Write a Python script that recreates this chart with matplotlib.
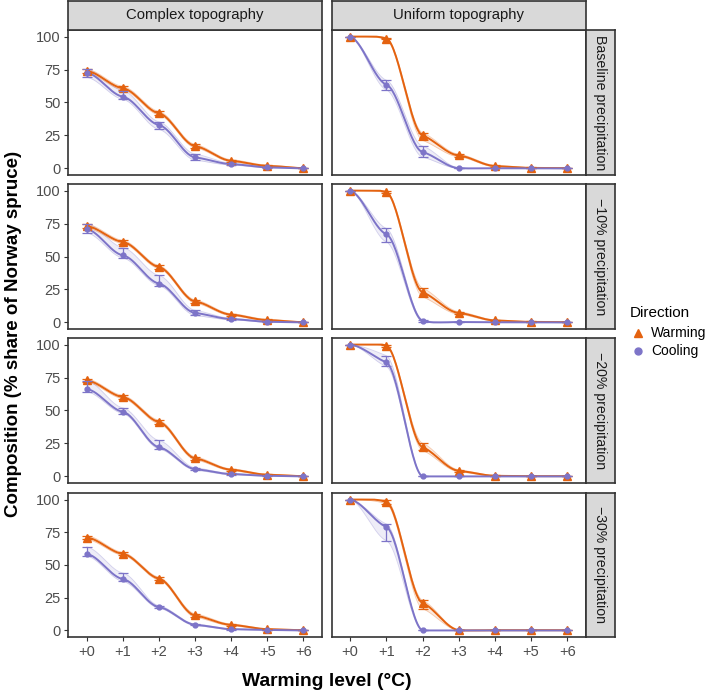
import numpy as np
import matplotlib.pyplot as plt
from matplotlib.lines import Line2D

plt.rcParams['font.family'] = ['Liberation Sans', 'DejaVu Sans']

# data, one list per precipitation row
levels = [0, 1, 2, 3, 4, 5, 6]
tick_labels = ['+0', '+1', '+2', '+3', '+4', '+5', '+6']
topo_labels = ['Complex topography', 'Uniform topography']
precip_labels = ['Baseline precipitation', '\u221210% precipitation',
                 '\u221220% precipitation', '\u221230% precipitation']

complex_warm = [[73.9, 60.8, 41.8, 17.0, 5.8, 2.0, 0.2],
                [73.0, 61.0, 42.0, 16.0, 5.9, 1.8, 0.2],
                [72.8, 60.2, 41.3, 13.8, 5.1, 1.3, 0.2],
                [71.0, 58.5, 39.6, 11.5, 4.3, 1.0, 0.2]]
complex_warm_lo = [[72.5, 59.5, 40.5, 15.8, 5.0, 1.4, 0.0],
                   [71.5, 59.8, 40.8, 14.8, 5.1, 1.2, 0.0],
                   [71.5, 59.0, 40.0, 12.6, 4.4, 0.8, 0.0],
                   [69.5, 57.4, 38.5, 10.2, 3.6, 0.6, 0.0]]
complex_warm_hi = [[75.3, 62.2, 43.2, 18.3, 6.7, 2.6, 0.5],
                   [74.5, 62.2, 43.2, 17.2, 6.7, 2.4, 0.5],
                   [74.0, 61.4, 42.6, 15.0, 5.8, 1.8, 0.5],
                   [72.5, 59.6, 40.7, 12.8, 5.0, 1.4, 0.5]]

complex_cool = [[72.6, 54.4, 32.9, 8.4, 3.3, 0.8, 0.0],
                [70.8, 50.9, 29.5, 7.2, 2.6, 0.5, 0.0],
                [66.3, 49.0, 22.2, 5.6, 1.8, 0.5, 0.0],
                [58.5, 39.3, 17.9, 4.4, 1.0, 0.4, 0.0]]
complex_cool_lo = [[69.1, 52.4, 29.6, 6.3, 2.6, 0.4, 0.0],
                   [68.0, 48.9, 27.9, 5.3, 2.0, 0.2, 0.0],
                   [64.3, 47.7, 21.0, 4.8, 1.3, 0.2, 0.0],
                   [56.9, 37.5, 17.0, 3.8, 0.7, 0.2, 0.0]]
complex_cool_hi = [[75.2, 59.0, 35.4, 10.9, 4.0, 1.3, 0.2],
                   [75.0, 56.8, 35.6, 9.2, 3.2, 0.9, 0.2],
                   [72.7, 52.0, 27.3, 6.6, 2.3, 0.8, 0.2],
                   [63.8, 43.9, 19.0, 5.0, 1.4, 0.6, 0.2]]

uniform_warm = [[100.0, 98.5, 25.0, 9.8, 1.8, 0.4, 0.2],
                [100.0, 98.8, 22.9, 7.2, 1.5, 0.4, 0.2],
                [100.0, 99.2, 22.2, 4.3, 0.5, 0.2, 0.2],
                [100.0, 98.2, 21.0, 0.3, 0.2, 0.2, 0.2]]
uniform_warm_lo = [[100.0, 97.8, 21.3, 8.8, 1.2, 0.1, 0.0],
                   [100.0, 98.0, 19.4, 6.2, 1.0, 0.1, 0.0],
                   [100.0, 98.5, 19.7, 3.5, 0.2, 0.0, 0.0],
                   [100.0, 96.7, 16.6, 0.0, 0.0, 0.0, 0.0]]
uniform_warm_hi = [[100.0, 99.2, 27.0, 10.8, 2.4, 0.7, 0.4],
                   [100.0, 99.5, 26.0, 8.2, 2.0, 0.7, 0.4],
                   [100.0, 99.8, 25.2, 5.1, 0.8, 0.4, 0.4],
                   [100.0, 100.0, 23.0, 0.6, 0.4, 0.4, 0.4]]

uniform_cool = [[100.0, 63.6, 12.4, 0.2, 0.1, 0.0, 0.0],
                [100.0, 66.9, 1.3, 0.3, 0.1, 0.0, 0.0],
                [100.0, 86.5, 0.0, 0.0, 0.0, 0.0, 0.0],
                [100.0, 79.1, 0.0, 0.0, 0.0, 0.0, 0.0]]
uniform_cool_lo = [[100.0, 59.6, 8.6, 0.0, 0.0, 0.0, 0.0],
                   [100.0, 61.1, 0.6, 0.0, 0.0, 0.0, 0.0],
                   [100.0, 83.4, 0.0, 0.0, 0.0, 0.0, 0.0],
                   [100.0, 68.6, 0.0, 0.0, 0.0, 0.0, 0.0]]
uniform_cool_hi = [[100.0, 67.0, 16.9, 0.5, 0.2, 0.1, 0.1],
                   [100.0, 71.3, 2.0, 0.5, 0.2, 0.1, 0.1],
                   [100.0, 91.6, 0.3, 0.1, 0.1, 0.1, 0.1],
                   [100.0, 81.4, 0.3, 0.1, 0.1, 0.1, 0.1]]

warm_col = '#E4620F'
cool_col = '#7D74C8'
strip_fill = '#D9D9D9'
border = '#333333'


def smooth(x, y, n=30, k=0.22):
    # hermite curve through the points with damped slopes
    x = np.asarray(x, float)
    y = np.asarray(y, float)
    d = np.gradient(y, x) * k
    xs, ys = [], []
    for i in range(len(x) - 1):
        h = x[i + 1] - x[i]
        t = np.linspace(0, 1, n, endpoint=(i == len(x) - 2))
        h00 = 2 * t**3 - 3 * t**2 + 1
        h10 = t**3 - 2 * t**2 + t
        h01 = -2 * t**3 + 3 * t**2
        h11 = t**3 - t**2
        xs.append(x[i] + t * h)
        ys.append(h00 * y[i] + h10 * h * d[i] + h01 * y[i + 1] + h11 * h * d[i + 1])
    return np.concatenate(xs), np.clip(np.concatenate(ys), 0, 100)


W, H = 709, 695
fig = plt.figure(figsize=(W / 100, H / 100), dpi=100)


def box(x0, y0, x1, y1):
    # pixel box (top-left origin) -> figure fraction rect
    return [x0 / W, 1 - y1 / H, (x1 - x0) / W, (y1 - y0) / H]


rows = [(30, 175), (184, 329), (338, 483), (493, 637)]
cols = [(68.3, 321.7), (331.7, 585.7)]

panel_data = [
    (complex_warm, complex_warm_lo, complex_warm_hi, complex_cool, complex_cool_lo, complex_cool_hi),
    (uniform_warm, uniform_warm_lo, uniform_warm_hi, uniform_cool, uniform_cool_lo, uniform_cool_hi),
]

for r, (ry0, ry1) in enumerate(rows):
    for c, (cx0, cx1) in enumerate(cols):
        ax = fig.add_axes(box(cx0, ry0, cx1, ry1))
        wm, wl, wh, cm, cl, ch = [a[r] for a in panel_data[c]]
        series = [(wm, wl, wh, warm_col, '^', 5.5), (cm, cl, ch, cool_col, 'o', 3.5)]
        for mean, lo, hi, col, mk, ms in series:
            xs, ylo = smooth(levels, lo)
            _, yhi = smooth(levels, hi)
            ax.fill_between(xs, ylo, yhi, color=col, alpha=0.13, lw=0)
            ax.plot(xs, ylo, color=col, lw=0.6, alpha=0.3)
            ax.plot(xs, yhi, color=col, lw=0.6, alpha=0.3)
        for mean, lo, hi, col, mk, ms in series:
            xs, ys = smooth(levels, mean)
            ax.plot(xs, ys, color=col, lw=1.4, solid_capstyle='butt')
        for mean, lo, hi, col, mk, ms in series:
            m = np.array(mean)
            ax.errorbar(levels, m, yerr=[m - np.array(lo), np.array(hi) - m], fmt='none',
                        ecolor=col, elinewidth=0.9, capsize=3.6, capthick=0.9)
            ax.plot(levels, mean, ls='none', marker=mk, ms=ms, color=col, mec=col)

        ax.set_xlim(-0.51, 6.51)
        ax.set_ylim(-5, 105)
        ax.set_xticks(levels)
        ax.set_yticks([0, 25, 50, 75, 100])
        for s in ax.spines.values():
            s.set_color(border)
            s.set_linewidth(1.2)
        ax.tick_params(colors=border, labelcolor='#4D4D4D', labelsize=10.5,
                       length=3, width=0.8, pad=2.5)
        if r == len(rows) - 1:
            ax.set_xticklabels(tick_labels)
        else:
            ax.tick_params(axis='x', length=0, labelbottom=False)
        if c != 0:
            ax.tick_params(axis='y', length=0, labelleft=False)

        # top strips
        if r == 0:
            sa = fig.add_axes(box(cx0, 1, cx1, ry0))
            sa.set_facecolor(strip_fill)
            sa.set_xticks([])
            sa.set_yticks([])
            for s in sa.spines.values():
                s.set_color(border)
                s.set_linewidth(1.2)
            sa.text(0.5, 0.5, topo_labels[c], ha='center', va='center',
                    fontsize=10.7, color='#1A1A1A', transform=sa.transAxes)

    # right strips
    sa = fig.add_axes(box(cols[1][1], ry0, 615, ry1))
    sa.set_facecolor(strip_fill)
    sa.set_xticks([])
    sa.set_yticks([])
    for s in sa.spines.values():
        s.set_color(border)
        s.set_linewidth(1.2)
    sa.text(0.5, 0.5, precip_labels[r], ha='center', va='center', rotation=-90,
            fontsize=10.2, color='#1A1A1A', transform=sa.transAxes, clip_on=True)

# axis titles
fig.text(327 / W, 1 - 682 / H, 'Warming level (\u00b0C)', ha='center', va='center',
         fontsize=13.9, fontweight='bold')
fig.text(14 / W, 1 - 333.5 / H, 'Composition (% share of Norway spruce)', ha='center',
         va='center', rotation=90, fontsize=13.5, fontweight='bold')

# legend
fig.text(630 / W, 1 - 313 / H, 'Direction', ha='left', va='center', fontsize=11)
legend_items = [('Warming', warm_col, '^', 5.5), ('Cooling', cool_col, 'o', 5)]
for i, (lab, col, mk, ms) in enumerate(legend_items):
    yy = 1 - (333 + 18 * i) / H
    fig.add_artist(Line2D([638 / W], [yy], marker=mk, ms=ms, color=col, ls='none',
                          transform=fig.transFigure))
    fig.text(651 / W, yy, lab, ha='left', va='center', fontsize=10)

fig.savefig('out.png', dpi=100, facecolor='white')
